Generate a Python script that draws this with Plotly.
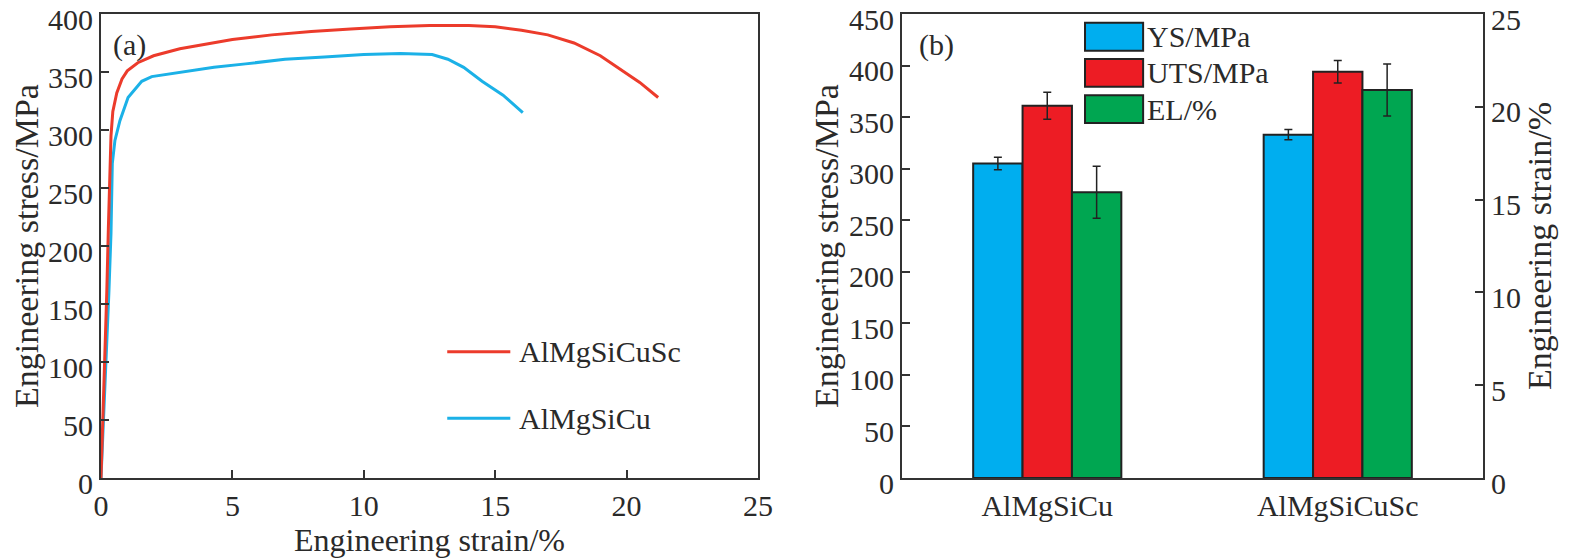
import plotly.graph_objects as go

# (a) engineering stress-strain curves
sc_strain = [0, 0.08, 0.15, 0.22, 0.28, 0.33, 0.38, 0.45, 0.6, 0.8, 1.0, 1.4, 2.0, 3.0, 4.0,
             5.0, 6.5, 8.0, 9.5, 11.0, 12.5, 14.0, 15.0, 16.0, 17.0, 18.0, 19.0, 19.8, 20.5, 21.2]
sc_stress = [0, 55, 100, 160, 215, 265, 295, 316, 332, 344, 351, 358, 364, 370, 374,
             378, 382, 385, 387, 389, 390, 390, 389, 386, 382, 375, 364, 352, 341, 328]
cu_strain = [0, 0.1, 0.2, 0.3, 0.38, 0.43, 0.53, 0.72, 1.03, 1.55, 1.93, 2.55, 3.3, 4.3, 5.5,
             7.0, 8.5, 10.0, 11.4, 12.6, 13.2, 13.8, 14.5, 15.3, 16.05]
cu_stress = [0, 50, 105, 160, 211, 271, 291, 308, 328, 342, 346, 348, 351, 354, 357,
             361, 363, 365, 366, 365, 361, 354, 342, 330, 315]

# (b) tensile properties
alloys = ["AlMgSiCu", "AlMgSiCuSc"]
ys_mpa = [305, 333]
ys_err = [6, 5]
uts_mpa = [361, 394]
uts_err = [13, 11]
el_pct = [15.4, 20.9]
el_err = [1.4, 1.4]

FONT = "Liberation Serif"
AX = "#333333"
TXT = "#2a2a2a"

# the page body adds an 8px margin, so the figure is a bit smaller than the window
W, H = 1561, 550


def dom_x(px0, px1):
    return [(px0 - 8) / W, (px1 - 8) / W]


def dom_y(top, bottom):
    return [1 - (bottom - 8) / H, 1 - (top - 8) / H]


fig = go.Figure()

# blue first so the red curve sits on top near the origin
curves = [("AlMgSiCu", cu_strain, cu_stress, "#1BB1E7"),
          ("AlMgSiCuSc", sc_strain, sc_stress, "#EC3B2B")]
for name, xs, ys, col in curves:
    fig.add_trace(go.Scatter(x=xs, y=ys, mode="lines", name=name, showlegend=False,
                             line=dict(color=col, width=3)))

bars = [("YS/MPa", ys_mpa, ys_err, "#00AEEF", "y2", -0.255),
        ("UTS/MPa", uts_mpa, uts_err, "#ED1C24", "y2", -0.085),
        ("EL/%", el_pct, el_err, "#00A651", "y3", 0.085)]
for name, vals, err, col, yax, off in bars:
    fig.add_trace(go.Bar(x=alloys, y=vals, name=name, showlegend=False,
                         xaxis="x2", yaxis=yax, width=0.17, offset=off,
                         marker=dict(color=col, line=dict(color="#222222", width=2)),
                         error_y=dict(type="data", array=err, color="#222222",
                                      thickness=1.5, width=4)))

# hand-drawn legends (big glyphs like the original)
shapes = []
annos = []
for i, (name, xs, ys, col) in enumerate(reversed(curves)):
    yy = 0.272 - i * 0.143
    shapes.append(dict(type="line", xref="x domain", yref="y domain",
                       x0=0.527, x1=0.623, y0=yy, y1=yy,
                       line=dict(color=col, width=3)))
    annos.append(dict(text=name, xref="x domain", yref="y domain", x=0.633, y=yy,
                      xanchor="left", yanchor="middle", showarrow=False,
                      font=dict(size=30, color=TXT, family=FONT)))
for i, (name, vals, err, col, yax, off) in enumerate(bars):
    top = 0.981 - i * 0.078
    shapes.append(dict(type="rect", xref="x2 domain", yref="y2 domain",
                       x0=0.315, x1=0.415, y0=top - 0.06, y1=top,
                       fillcolor=col, line=dict(color="#222222", width=2)))
    annos.append(dict(text=name, xref="x2 domain", yref="y2 domain", x=0.418, y=top - 0.03,
                      xanchor="left", yanchor="middle", showarrow=False,
                      font=dict(size=30, color=TXT, family=FONT)))

annos.append(dict(text="(a)", xref="x domain", yref="y domain", x=0.043, y=0.933,
                  xanchor="center", yanchor="middle",
                  showarrow=False, font=dict(size=30, color=TXT, family=FONT)))
annos.append(dict(text="(b)", xref="x2 domain", yref="y2 domain", x=0.06, y=0.933,
                  xanchor="center", yanchor="middle",
                  showarrow=False, font=dict(size=30, color=TXT, family=FONT)))

axis_style = dict(showline=True, linecolor=AX, linewidth=2, ticks="inside", ticklen=8,
                  tickcolor=AX, tickwidth=1.5, showgrid=False, zeroline=False,
                  automargin=False, ticklabeloverflow="allow",
                  tickfont=dict(size=30, color=TXT, family=FONT))
title_font = dict(size=32, color=TXT, family=FONT)
ytitle_font = dict(size=34, color=TXT, family=FONT)

left_x = dom_x(101, 758)
right_x = dom_x(902, 1483)
plot_y = dom_y(14, 478)
YSHIFT = 5  # nudges value labels down so the top one stays on the page

fig.update_layout(
    width=W, height=H,
    margin=dict(l=0, r=0, t=0, b=0),
    paper_bgcolor="white", plot_bgcolor="white",
    barmode="overlay",
    showlegend=False,
    shapes=shapes,
    annotations=annos,
    xaxis=dict(axis_style, domain=left_x, range=[0, 25], dtick=5, mirror=True,
               anchor="y", title=dict(text="Engineering strain/%", font=title_font, standoff=0)),
    yaxis=dict(axis_style, domain=plot_y, range=[0, 400], dtick=50, mirror=True,
               anchor="x", ticklabelshift=YSHIFT,
               title=dict(text="Engineering stress/MPa", font=ytitle_font, standoff=8)),
    xaxis2=dict(axis_style, domain=right_x, range=[-0.5, 1.5], type="category",
                ticks="", mirror=True, anchor="y2"),
    yaxis2=dict(axis_style, domain=plot_y, range=[0, 450], dtick=50,
                anchor="x2", ticklabelshift=YSHIFT,
                title=dict(text="Engineering stress/MPa", font=ytitle_font, standoff=0)),
    yaxis3=dict(axis_style, domain=plot_y, range=[0, 25], dtick=5,
                anchor="x2", overlaying="y2", side="right", ticklabelshift=YSHIFT,
                title=dict(text="Engineering strain/%", font=ytitle_font, standoff=2)),
)

fig.write_html("out.html")
